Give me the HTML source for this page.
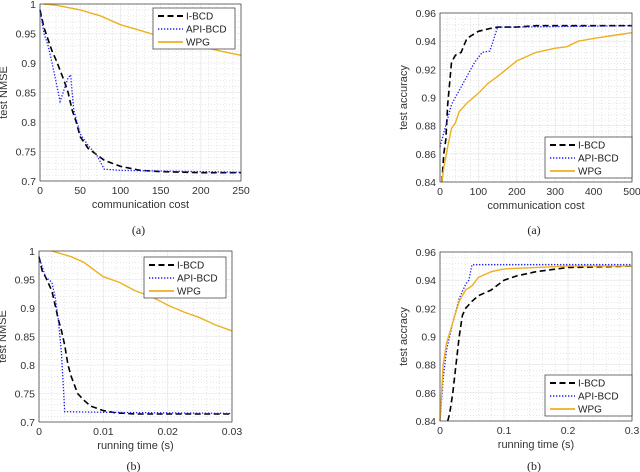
<!DOCTYPE html>
<html><head><meta charset="utf-8"><style>
body{margin:0;background:#fff}
svg{display:block;font-family:"Liberation Sans",sans-serif}
</style></head><body>
<svg id="fig" width="640" height="472" viewBox="0 0 640 472"></svg>
<script>
// ---- data ----
const p1IBCD=[[0,0.99],[5,0.96],[10,0.94],[15,0.92],[20,0.905],[30,0.87],[35,0.85],[40,0.82],[45,0.8],[50,0.775],[60,0.755],[70,0.745],[80,0.735],[100,0.725],[125,0.718],[150,0.716],[200,0.714],[250,0.714]];
const p1API=[[0,0.99],[5,0.95],[10,0.93],[15,0.9],[25,0.835],[30,0.855],[35,0.875],[38,0.88],[42,0.82],[50,0.78],[60,0.76],[70,0.745],[80,0.72],[100,0.718],[150,0.717],[250,0.715]];
const p1WPG=[[5,1],[20,0.998],[50,0.99],[75,0.98],[100,0.965],[125,0.955],[150,0.945],[175,0.935],[200,0.928],[225,0.92],[250,0.913]];
const p2IBCD=[[5,0.84],[10,0.86],[15,0.87],[20,0.895],[25,0.91],[30,0.925],[40,0.93],[55,0.932],[70,0.942],[100,0.947],[130,0.949],[150,0.95],[200,0.95],[250,0.951],[500,0.951]];
const p2API=[[0,0.865],[10,0.875],[20,0.885],[30,0.895],[50,0.905],[70,0.915],[90,0.925],[110,0.932],[130,0.933],[150,0.95],[200,0.95],[500,0.951]];
const p2WPG=[[5,0.84],[10,0.85],[20,0.865],[30,0.878],[40,0.882],[50,0.89],[70,0.896],[100,0.903],[125,0.91],[150,0.915],[200,0.926],[250,0.932],[300,0.935],[330,0.936],[360,0.94],[400,0.942],[450,0.944],[500,0.946]];
const p3IBCD=[[0,0.99],[0.0005,0.965],[0.001,0.955],[0.002,0.93],[0.0025,0.905],[0.003,0.88],[0.0035,0.86],[0.004,0.835],[0.0045,0.8],[0.005,0.78],[0.006,0.75],[0.007,0.738],[0.008,0.728],[0.01,0.72],[0.012,0.716],[0.015,0.714],[0.03,0.714]];
const p3API=[[0,0.99],[0.001,0.955],[0.002,0.945],[0.0025,0.92],[0.003,0.88],[0.0035,0.82],[0.004,0.718],[0.01,0.717],[0.03,0.715]];
const p3WPG=[[0.002,1],[0.005,0.99],[0.007,0.98],[0.01,0.955],[0.0125,0.945],[0.015,0.93],[0.0175,0.92],[0.02,0.905],[0.0225,0.893],[0.025,0.883],[0.0275,0.87],[0.03,0.86]];
const p4IBCD=[[0.012,0.84],[0.015,0.845],[0.02,0.86],[0.025,0.88],[0.03,0.9],[0.035,0.915],[0.04,0.92],[0.05,0.925],[0.06,0.929],[0.08,0.933],[0.1,0.94],[0.12,0.943],[0.15,0.946],[0.2,0.949],[0.3,0.95]];
const p4API=[[0,0.84],[0.005,0.87],[0.01,0.89],[0.02,0.91],[0.03,0.927],[0.04,0.937],[0.045,0.94],[0.05,0.951],[0.3,0.951]];
const p4WPG=[[0,0.84],[0.005,0.88],[0.01,0.895],[0.02,0.91],[0.03,0.925],[0.04,0.933],[0.05,0.936],[0.06,0.942],[0.08,0.946],[0.1,0.948],[0.2,0.95],[0.3,0.95]];
const xt1=[0,50,100,150,200,250], yt1=[0.7,0.75,0.8,0.85,0.9,0.95,1];
const xt2=[0,100,200,300,400,500], yt2=[0.84,0.86,0.88,0.9,0.92,0.94,0.96];
const xt3=[0,0.01,0.02,0.03];
const xt4=[0,0.1,0.2,0.3];
const seriesNames=["I-BCD","API-BCD","WPG"];

const NS="http://www.w3.org/2000/svg";
const svg=document.getElementById('fig');
function mk(tag,attrs,parent){const e=document.createElementNS(NS,tag);for(const k in attrs)e.setAttribute(k,attrs[k]);(parent||svg).appendChild(e);return e;}
const styles=[{stroke:"#000",w:1.6,dash:"6,3.5"},{stroke:"#1a1aff",w:1.3,dash:"1.3,1.7"},{stroke:"#edb120",w:1.4,dash:""}];

function chart(id,L,R,T,B,xmin,xmax,ymin,ymax,xt,yt,xlabels,ylabels,xtitle,ytitle,data,leg,caption,capY){
  const g=mk('g',{});
  
  
  const sx=v=>L+(v-xmin)/(xmax-xmin)*(R-L), sy=v=>B-(v-ymin)/(ymax-ymin)*(B-T);
  // minor grid
  const nx=xt.length-1, ny=yt.length-1;
  for(let i=0;i<nx*5;i++){const v=xmin+(xmax-xmin)*i/(nx*5); if(i%5) mk('line',{x1:sx(v),x2:sx(v),y1:T,y2:B,stroke:"#ccc","stroke-width":0.5,"stroke-dasharray":"1,2"},g);}
  for(let i=0;i<ny*5;i++){const v=ymin+(ymax-ymin)*i/(ny*5); if(i%5) mk('line',{x1:L,x2:R,y1:sy(v),y2:sy(v),stroke:"#ccc","stroke-width":0.5,"stroke-dasharray":"1,2"},g);}
  xt.forEach((v,i)=>{mk('line',{x1:sx(v),x2:sx(v),y1:T,y2:B,stroke:"#e2e2e2","stroke-width":0.6},g);
    const t=mk('text',{x:sx(v),y:B+13,"font-size":10.5,fill:"#333","text-anchor":"middle"},g);t.textContent=xlabels[i];
    
    });
  yt.forEach((v,i)=>{mk('line',{x1:L,x2:R,y1:sy(v),y2:sy(v),stroke:"#e2e2e2","stroke-width":0.6},g);
    const t=mk('text',{x:L-4,y:sy(v)+4,"font-size":10.5,fill:"#333","text-anchor":"end"},g);t.textContent=ylabels[i];
    
    });
  data.forEach((d,k)=>{const s=styles[k];
    const p=mk('polyline',{points:d.map(q=>sx(q[0]).toFixed(1)+","+sy(q[1]).toFixed(1)).join(" "),fill:"none",stroke:s.stroke,"stroke-width":s.w,"stroke-dasharray":s.dash},g);
    
    });
  mk('rect',{x:L,y:T,width:R-L,height:B-T,fill:"none",stroke:"#333","stroke-width":0.7},g);
  const xtl=mk('text',{x:(L+R)/2,y:B+27,"font-size":11,fill:"#333","text-anchor":"middle"},g);xtl.textContent=xtitle;
  
  
  const yc=(T+B)/2, yx=L-33;
  const ytl=mk('text',{x:yx,y:yc,"font-size":11,fill:"#333","text-anchor":"middle",transform:`rotate(-90 ${yx} ${yc})`},g);ytl.textContent=ytitle;
  
  
  // legend
  const lg=mk('g',{},g);
  
  
  mk('rect',{x:leg[0],y:leg[1],width:leg[2],height:leg[3],fill:"#fff",stroke:"#333","stroke-width":0.7},lg);
  seriesNames.forEach((n,k)=>{const s=styles[k];const yy=leg[1]+8+k*13;
    mk('line',{x1:leg[0]+5,x2:leg[0]+30,y1:yy,y2:yy,stroke:s.stroke,"stroke-width":s.w+0.3,"stroke-dasharray":s.dash},lg);
    const t=mk('text',{x:leg[0]+33,y:yy+3.5,"font-size":10,fill:"#222"},lg);t.textContent=n;
    
    });
  const c=mk('text',{x:(L+R)/2-2,y:capY,"font-size":12,fill:"#222","text-anchor":"middle","font-family":"Liberation Serif, serif"},g);c.textContent=caption;
  
  
}
const f=v=>String(v);
chart('chart-nmse-comm',40,241,4,181,0,250,0.7,1,xt1,yt1,xt1.map(f),yt1.map(f),"communication cost","test NMSE",[p1IBCD,p1API,p1WPG],[153,8,82,41],"(a)",234);
chart('chart-acc-comm',440,632,13,182,0,500,0.84,0.96,xt2,yt2,xt2.map(f),yt2.map(f),"communication cost","test accuracy",[p2IBCD,p2API,p2WPG],[545,137,87,41],"(a)",234);
chart('chart-nmse-time',39,232,251,422,0,0.03,0.7,1,xt3,yt1,xt3.map(f),yt1.map(f),"running time (s)","test NMSE",[p3IBCD,p3API,p3WPG],[144,257,82,41],"(b)",470);
chart('chart-acc-time',440,632,252,421,0,0.3,0.84,0.96,xt4,yt2,xt4.map(f),yt2.map(f),"running time (s)","test accracy",[p4IBCD,p4API,p4WPG],[545,375,87,41],"(b)",470);
</script>
</body></html>
